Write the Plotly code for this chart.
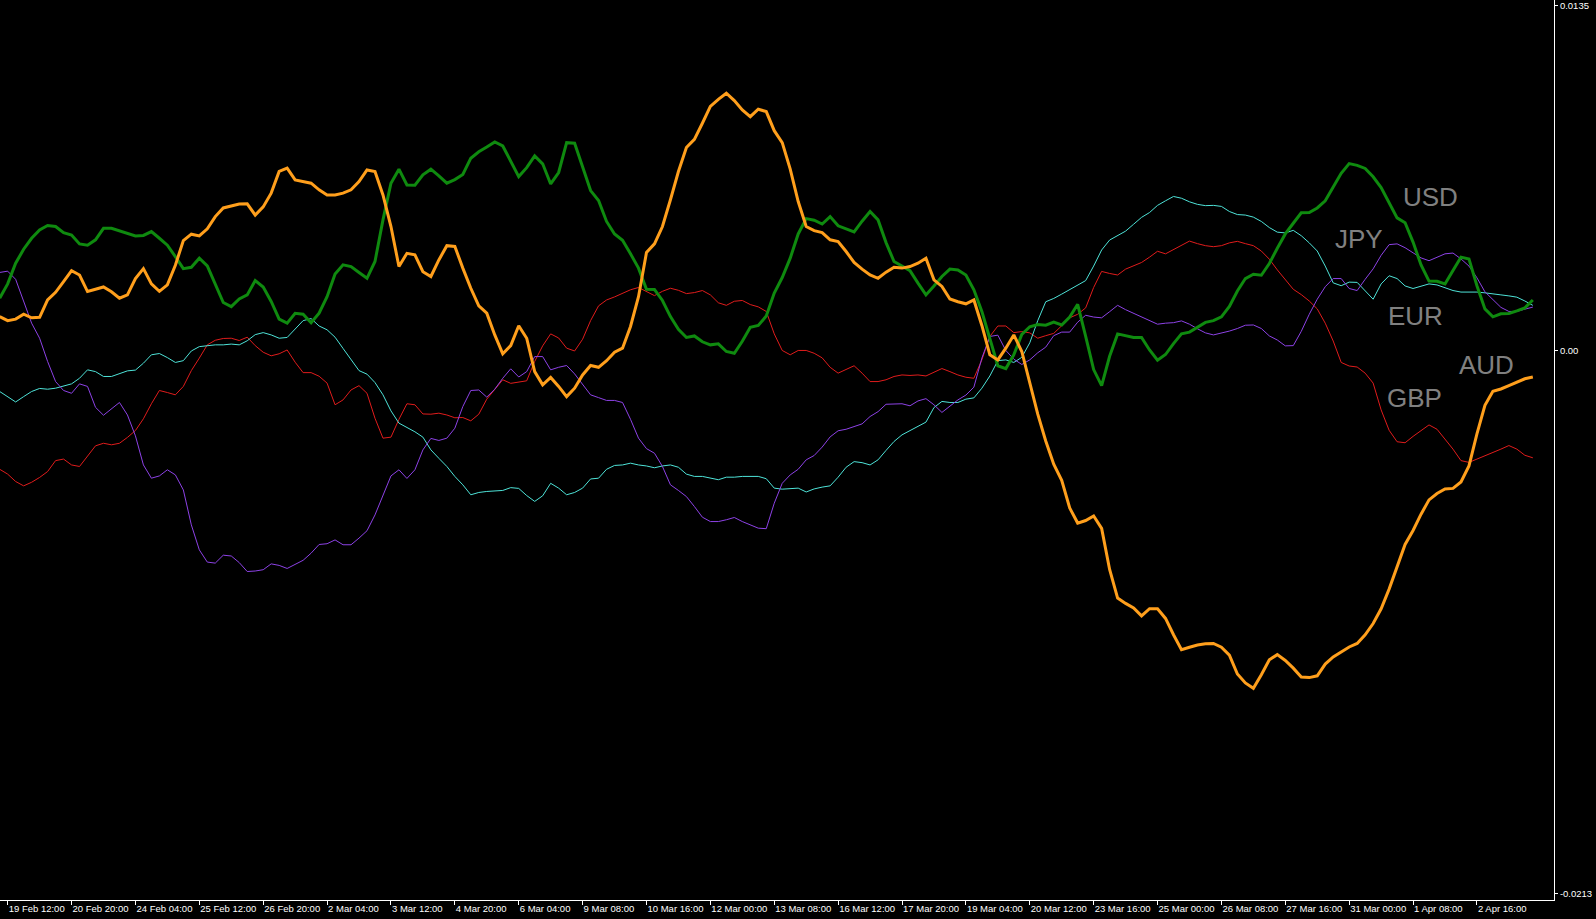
import plotly.graph_objects as go

# Currency strength values, one per bar, in basis points (1 bp = 0.0001)
usd = [20.4, 26.0, 34.1, 39.6, 43.9, 47.2, 48.9, 48.5, 46.1, 45.2, 41.7, 41.2, 43.3, 47.8, 47.8, 46.8, 45.6, 44.8, 45.0, 46.5,
       43.9, 41.2, 36.7, 32.0, 32.5, 36.1, 33.1, 26.0, 18.7, 17.1, 20.1, 21.7, 27.3, 24.8,
       19.1, 12.2, 10.6, 14.5, 14.1, 10.8, 14.5, 21.0, 29.9, 33.5, 32.8, 30.5, 28.2, 34.8, 51.1, 65.5,
       71.0, 64.8, 64.7, 68.8, 71.0, 68.4, 65.5, 66.9, 68.9, 75.3, 77.8, 79.7, 81.7, 80.1, 74.0, 68.1,
       71.6, 76.2, 73.1, 65.2, 69.7, 81.4, 81.2, 71.8, 62.6, 58.7, 50.5, 45.6, 43.1, 37.8, 32.2,
       23.9, 23.8, 19.5, 13.2, 8.2, 5.0, 5.6, 3.3, 2.1, 2.5, -0.5, -1.2, 3.5, 9.0, 9.7, 13.4,
       22.4, 28.5, 36.1, 45.6, 51.6, 51.0, 49.5, 52.4, 48.8, 47.7, 46.4, 50.6, 54.4, 51.1, 42.2,
       34.8, 33.1, 31.2, 26.3, 21.7, 25.2, 28.9, 31.8, 31.5, 29.5, 23.7, 15.2, 4.7, -6.1, -7.2, -1.8,
       6.2, 9.2, 10.1, 9.8, 11.0, 9.9, 13.0, 18.0, 5.4, -7.6, -13.9, -2.4, 6.4, 5.7, 5.0, 5.0, 0.1,
       -3.9, -1.7, 2.6, 6.4, 7.1, 9.1, 10.9, 11.6, 13.1, 17.2, 23.2, 28.1, 29.8, 29.4, 34.0, 40.0,
       45.6, 49.8, 53.9, 54.0, 55.8, 58.6, 63.8, 69.4, 73.2, 72.5, 71.3, 68.0, 63.8, 57.8, 51.9, 50.0,
       42.4, 33.4, 27.1, 27.0, 26.0, 31.3, 36.5, 35.8, 25.3, 16.2, 13.1, 14.3, 14.4, 15.4, 16.6, 19.7]

aud = [13.2, 11.6, 12.2, 14.1, 12.7, 12.9, 19.7, 22.7, 26.9, 31.2, 29.5, 23.0, 23.9, 24.8, 22.9, 20.4, 21.7, 28.1, 32.0, 26.0,
       23.1, 25.6, 33.3, 43.0, 45.5, 44.8, 47.6, 52.4, 55.8, 56.6, 57.3, 57.4, 53.0, 56.2,
       61.6, 70.1, 71.4, 66.8, 66.1, 65.5, 62.9, 60.9, 60.9, 61.6, 62.9, 66.1, 70.7, 70.1, 60.9, 48.5,
       32.8, 38.0, 37.4, 30.8, 28.9, 35.4, 41.0, 40.7, 32.2, 24.3, 17.4, 14.5, 6.0, -1.4, 1.8, 9.6,
       4.7, -8.4, -13.6, -10.7, -14.2, -18.2, -14.9, -9.7, -6.0, -6.7, -4.1, -0.8, 0.8, 9.3, 21.0,
       38.3, 41.7, 48.5, 59.0, 70.1, 79.5, 82.7, 89.0, 95.6, 98.4, 100.8, 97.9, 94.2, 91.6, 94.5, 93.6,
       86.1, 81.4, 71.0, 58.3, 48.5, 46.9, 46.1, 43.3, 42.6, 38.7, 34.4, 31.8, 29.5, 28.2, 30.6,
       32.5, 32.2, 32.8, 34.1, 36.1, 27.6, 25.0, 20.1, 19.0, 18.2, 19.7, 9.7, -1.8, -3.8, 0.8, 6.0,
       -0.5, -13.2, -25.1, -35.6, -44.7, -51.0, -61.9, -67.8, -66.8, -65.0, -69.9, -86.0, -97.2, -99.3, -101.1, -104.2, -101.4,
       -101.4, -105.2, -111.6, -117.5, -116.5, -115.6, -115.1, -115.0, -116.5, -119.6, -127.0, -130.5, -132.6, -127.3, -121.4, -119.4,
       -121.7, -124.7, -128.2, -128.4, -127.7, -123.1, -120.3, -118.2, -116.4, -115.0, -111.6, -107.2, -101.4, -93.7, -84.5, -76.2,
       -70.7, -64.3, -58.7, -56.2, -54.4, -54.2, -51.7, -45.4, -32.8, -21.6, -16.1, -15.2, -13.9, -12.5, -11.2, -10.5]

jpy = [30.5, 31.0, 27.8, 19.1, 10.6, 4.7, -4.4, -12.3, -15.8, -16.9, -13.2, -14.2, -22.4, -25.5, -23.1, -20.5, -25.4, -33.6, -45.0, -50.2,
       -49.3, -46.9, -48.9, -54.8, -68.5, -78.3, -83.1, -83.5, -80.4, -80.7, -83.3, -86.8, -86.6, -86.1,
       -83.8, -84.4, -85.6, -84.1, -82.4, -79.6, -76.2, -75.9, -74.4, -76.3, -76.3, -73.7, -70.8, -64.6, -56.7, -49.3,
       -46.9, -50.3, -46.9, -39.1, -34.6, -35.4, -34.5, -30.6, -22.1, -15.8, -15.6, -18.4, -15.3, -11.0, -7.3, -10.5,
       -8.4, -2.5, -2.5, -7.7, -6.7, -6.0, -9.3, -13.2, -17.5, -18.6, -19.7, -19.7, -20.5, -27.1, -34.5,
       -38.6, -40.4, -45.6, -52.8, -55.0, -57.4, -61.3, -65.5, -67.2, -67.2, -66.5, -65.6, -67.2, -68.5, -69.8, -70.0,
       -60.0, -52.2, -48.9, -46.7, -43.0, -41.3, -38.0, -34.0, -31.6, -31.0, -29.8, -28.9, -26.0, -24.1, -21.2,
       -21.0, -21.0, -21.8, -19.9, -19.0, -21.4, -24.4, -21.8, -19.5, -17.6, -14.5, -3.1, 5.4, 5.9, -0.1, -3.5,
       -5.6, -3.8, -1.0, 1.2, 5.7, 7.1, 7.1, 11.0, 13.7, 13.0, 12.7, 15.1, 17.6, 15.9, 14.5, 12.9, 11.5,
       10.2, 10.6, 10.8, 11.5, 10.2, 8.4, 6.8, 6.0, 6.7, 7.5, 8.5, 9.8, 9.9, 8.5, 5.6, 4.0,
       1.7, 1.8, 7.4, 14.1, 20.0, 24.9, 28.1, 28.1, 24.2, 23.4, 27.8, 31.9, 37.2, 41.4, 41.7, 40.2,
       38.2, 36.2, 35.1, 36.4, 37.8, 38.1, 35.8, 33.0, 28.4, 22.9, 19.7, 16.8, 15.2, 15.2, 16.1, 16.9]

eur = [-16.2, -18.2, -20.3, -18.2, -16.2, -15.0, -15.3, -14.9, -14.1, -13.2, -11.0, -7.7, -8.4, -10.3, -10.3, -9.3, -8.1, -7.8, -5.1, -1.8,
       -1.3, -2.9, -4.8, -4.1, -0.3, 1.4, 1.8, 2.1, 2.1, 2.4, 2.1, 3.7, 6.1, 6.9,
       6.0, 4.7, 5.0, 8.2, 11.6, 12.4, 9.5, 8.0, 5.1, 0.7, -3.8, -8.0, -9.4, -12.7, -17.5, -23.8,
       -28.6, -30.2, -32.0, -34.1, -39.1, -42.4, -45.6, -49.5, -52.8, -56.7, -55.8, -55.4, -55.3, -55.0, -53.9, -54.2,
       -57.0, -59.3, -57.1, -52.2, -54.1, -56.7, -55.8, -54.1, -50.5, -50.2, -46.7, -45.2, -45.0, -44.3, -45.0,
       -45.4, -46.1, -45.4, -45.0, -45.9, -48.6, -49.5, -49.5, -50.2, -50.8, -49.8, -49.8, -49.5, -49.5, -49.5, -50.4,
       -54.1, -54.5, -54.2, -54.1, -55.6, -54.4, -53.7, -53.2, -49.8, -45.9, -43.7, -44.1, -45.0, -43.0, -39.3,
       -35.8, -33.2, -31.5, -29.9, -28.2, -22.5, -20.1, -20.5, -20.5, -19.2, -18.7, -14.9, -10.1, -4.1, -3.8, -4.8,
       -2.8, 2.9, 11.6, 19.0, 20.3, 22.0, 23.8, 25.3, 27.3, 33.0, 39.3, 43.2, 44.9, 46.7, 49.4, 52.1, 54.0,
       56.8, 58.6, 60.3, 59.6, 58.2, 57.2, 56.7, 56.8, 56.4, 54.4, 53.2, 53.0, 52.2, 50.5, 48.1, 46.3,
       46.0, 47.0, 44.9, 42.1, 38.9, 33.0, 26.4, 25.3, 26.7, 26.6, 23.2, 20.0, 26.0, 29.2, 28.1, 25.2,
       24.2, 25.0, 26.0, 25.6, 24.6, 23.4, 22.8, 22.8, 22.8, 22.5, 22.2, 21.7, 21.3, 20.8, 19.3, 17.6]

gbp = [-46.7, -48.6, -51.5, -53.2, -51.8, -49.9, -47.6, -43.3, -42.7, -45.0, -45.6, -41.3, -37.5, -36.5, -37.1, -36.5, -34.2, -31.5, -26.9, -21.0,
       -15.8, -16.6, -17.5, -14.2, -8.0, -3.1, 2.1, 3.9, 4.6, 4.7, 3.8, 5.1, 1.8, -0.8,
       -2.2, -1.4, 0.1, -4.7, -8.8, -8.8, -10.2, -12.9, -21.4, -19.5, -15.6, -13.9, -16.9, -26.7, -34.5, -34.1,
       -27.1, -21.0, -21.4, -25.0, -25.1, -24.7, -25.4, -26.5, -26.4, -27.7, -25.1, -19.2, -15.3, -11.6, -13.0, -12.6,
       -12.0, -4.4, 1.7, 6.4, 4.8, 0.8, -0.3, 4.3, 11.6, 17.4, 19.7, 20.9, 22.2, 23.7, 24.6,
       23.1, 21.4, 23.1, 24.3, 23.5, 22.2, 22.6, 23.4, 21.7, 18.6, 17.6, 19.2, 19.5, 17.9, 17.0, 15.2,
       6.4, -0.1, -1.8, -0.1, -0.1, -1.2, -3.0, -6.7, -9.0, -7.5, -6.1, -9.0, -12.3, -12.3, -11.6,
       -10.3, -9.7, -9.9, -9.7, -10.1, -8.8, -7.2, -8.4, -9.7, -10.6, -11.0, -3.8, 5.4, 9.5, 9.5, 6.9,
       7.3, 6.8, 4.7, 5.7, 6.6, 9.6, 12.7, 14.1, 16.6, 24.6, 30.9, 30.1, 29.5, 31.8, 33.0, 34.4, 36.5,
       38.8, 37.8, 39.5, 41.4, 42.8, 41.8, 41.0, 40.6, 41.0, 42.1, 42.7, 41.8, 41.0, 38.9, 35.7, 31.5,
       27.6, 23.9, 21.8, 19.3, 16.2, 10.6, 3.6, -4.8, -6.2, -6.6, -9.0, -12.9, -23.4, -31.4, -35.9, -36.3,
       -33.8, -31.5, -29.3, -31.0, -34.9, -38.8, -43.3, -44.0, -42.7, -41.5, -40.1, -38.8, -37.4, -38.8, -41.2, -42.2]

tick_labels = ["19 Feb 12:00", "20 Feb 20:00", "24 Feb 04:00", "25 Feb 12:00", "26 Feb 20:00", "2 Mar 04:00",
               "3 Mar 12:00", "4 Mar 20:00", "6 Mar 04:00", "9 Mar 08:00", "10 Mar 16:00", "12 Mar 00:00",
               "13 Mar 08:00", "16 Mar 12:00", "17 Mar 20:00", "19 Mar 04:00", "20 Mar 12:00", "23 Mar 16:00",
               "25 Mar 00:00", "26 Mar 08:00", "27 Mar 16:00", "31 Mar 00:00", "1 Apr 08:00", "2 Apr 16:00"]
tick_bars = [1 + 8 * i for i in range(len(tick_labels))]

y_tick_vals = [0.0135, 0.0, -0.0213]
y_tick_text = ["0.0135", "0.00", "-0.0213"]

BP = 1e-4
bars = list(range(len(usd)))

series = [
    ("GBP", gbp, "#e01c1c", 1),
    ("EUR", eur, "#4ee3d8", 1),
    ("JPY", jpy, "#8d42e6", 1),
    ("USD", usd, "#0f8a0f", 3),
    ("AUD", aud, "#ff9f1c", 3),
]

fig = go.Figure()
for name, vals, color, w in series:
    fig.add_trace(go.Scatter(x=bars, y=[v * BP for v in vals], mode="lines", name=name,
                             line=dict(color=color, width=w), hoverinfo="skip"))

labels = [("USD", 179.2, 0.00600), ("JPY", 170.2, 0.00435), ("EUR", 177.3, 0.00133),
          ("AUD", 186.2, -0.00057), ("GBP", 177.2, -0.00186)]
for txt, lx, ly in labels:
    fig.add_annotation(x=lx, y=ly, text=txt, showarrow=False, xanchor="center", yanchor="middle",
                       font=dict(family="Liberation Sans, Arial", size=26, color="#808080"))

axis_font = dict(family="Tahoma, Liberation Sans, Arial", size=9.5, color="#ffffff")
fig.update_layout(
    width=1596, height=919,
    paper_bgcolor="#000000", plot_bgcolor="#000000",
    margin=dict(l=0, r=42, t=0, b=19, autoexpand=False),
    showlegend=False,
    xaxis=dict(range=[0.04, 194.65], showgrid=False, zeroline=False,
               showline=True, linecolor="#ffffff", linewidth=1,
               ticks="outside", ticklen=4, tickwidth=1, tickcolor="#ffffff",
               tickvals=tick_bars, ticktext=tick_labels, tickfont=axis_font,
               tickangle=0, automargin=False,
               ticklabelposition="outside right"),
    yaxis=dict(range=[-0.021563, 0.013735], side="right", showgrid=False, zeroline=False,
               showline=True, linecolor="#ffffff", linewidth=1,
               ticks="outside", ticklen=3, tickwidth=1, tickcolor="#ffffff",
               tickvals=y_tick_vals, ticktext=y_tick_text, tickfont=axis_font,
               automargin=False),
)

fig.write_html("out.html", config={"displayModeBar": False},
               post_script="document.body.style.margin='0';document.body.style.background='#000';document.body.style.overflow='hidden';")
